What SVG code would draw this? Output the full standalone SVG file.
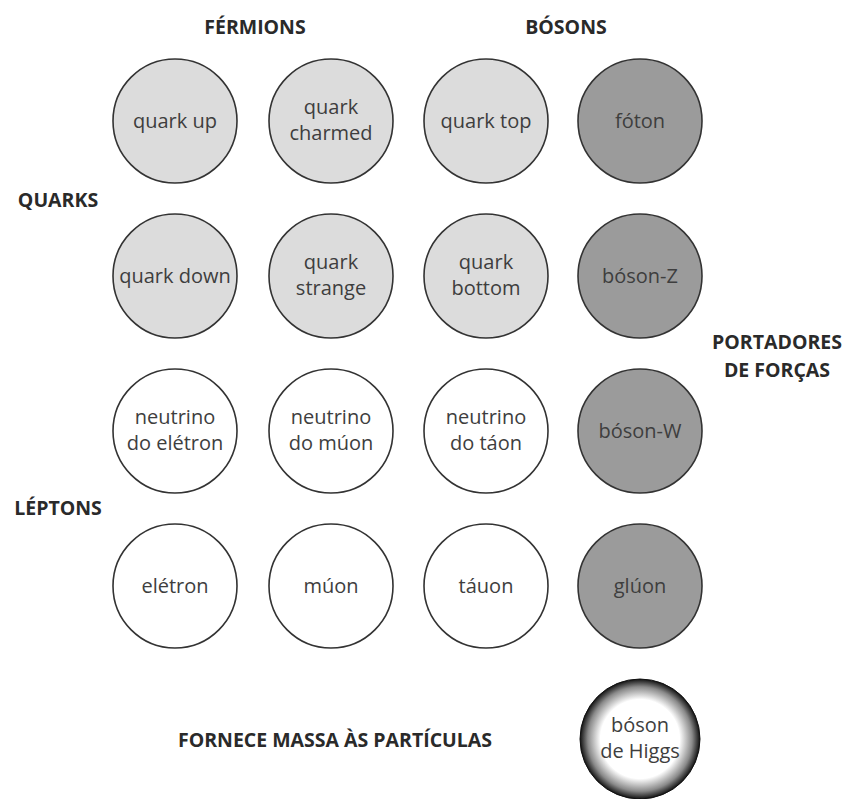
<svg xmlns="http://www.w3.org/2000/svg" width="847" height="799" viewBox="0 0 847 799">
<defs>
<radialGradient id="higgs" cx="50%" cy="50%" r="50%">
<stop offset="0" stop-color="#ffffff"/>
<stop offset="0.66" stop-color="#ffffff"/>
<stop offset="0.87" stop-color="#8a8a8a"/>
<stop offset="1" stop-color="#111111"/>
</radialGradient>
</defs>
<style>
.c{stroke:#333;stroke-width:1.6}
.q{fill:#dcdcdc}
.b{fill:#9b9b9b}
.l{fill:#ffffff}
.t{font-family:"Open Sans","Liberation Sans",sans-serif;font-size:20px;fill:#3e3e3e;text-anchor:middle}
.h{font-family:"Open Sans","Liberation Sans",sans-serif;font-size:19.5px;font-weight:bold;fill:#2a2a2a;text-anchor:middle}
</style>
<rect width="847" height="799" fill="#ffffff"/>
<g id="labels">
<text class="h" x="255" y="34">FÉRMIONS</text>
<text class="h" x="566" y="34">BÓSONS</text>
<text class="h" x="58" y="207">QUARKS</text>
<text class="h" x="58" y="515">LÉPTONS</text>
<text class="h" x="777" y="349">PORTADORES</text>
<text class="h" x="777" y="377">DE FORÇAS</text>
<text class="h" x="335" y="747">FORNECE MASSA ÀS PARTÍCULAS</text>
</g>
<g id="connectors"/>
<g id="quark-up"><circle class="c q" cx="175" cy="121" r="62"/><text class="t" x="175" y="128">quark up</text></g>
<g id="quark-charmed"><circle class="c q" cx="331" cy="121" r="62"/><text class="t" x="331" y="114">quark</text><text class="t" x="331" y="140">charmed</text></g>
<g id="quark-top"><circle class="c q" cx="486" cy="121" r="62"/><text class="t" x="486" y="128">quark top</text></g>
<g id="foton"><circle class="c b" cx="640" cy="121" r="62"/><text class="t" x="640" y="128">fóton</text></g>
<g id="quark-down"><circle class="c q" cx="175" cy="276" r="62"/><text class="t" x="175" y="283">quark down</text></g>
<g id="quark-strange"><circle class="c q" cx="331" cy="276" r="62"/><text class="t" x="331" y="269">quark</text><text class="t" x="331" y="295">strange</text></g>
<g id="quark-bottom"><circle class="c q" cx="486" cy="276" r="62"/><text class="t" x="486" y="269">quark</text><text class="t" x="486" y="295">bottom</text></g>
<g id="boson-z"><circle class="c b" cx="640" cy="276" r="62"/><text class="t" x="640" y="283">bóson-Z</text></g>
<g id="neutrino-eletron"><circle class="c l" cx="175" cy="431" r="62"/><text class="t" x="175" y="424">neutrino</text><text class="t" x="175" y="450">do elétron</text></g>
<g id="neutrino-muon"><circle class="c l" cx="331" cy="431" r="62"/><text class="t" x="331" y="424">neutrino</text><text class="t" x="331" y="450">do múon</text></g>
<g id="neutrino-tauon"><circle class="c l" cx="486" cy="431" r="62"/><text class="t" x="486" y="424">neutrino</text><text class="t" x="486" y="450">do táon</text></g>
<g id="boson-w"><circle class="c b" cx="640" cy="431" r="62"/><text class="t" x="640" y="438">bóson-W</text></g>
<g id="eletron"><circle class="c l" cx="175" cy="586" r="62"/><text class="t" x="175" y="593">elétron</text></g>
<g id="muon"><circle class="c l" cx="331" cy="586" r="62"/><text class="t" x="331" y="593">múon</text></g>
<g id="tauon"><circle class="c l" cx="486" cy="586" r="62"/><text class="t" x="486" y="593">táuon</text></g>
<g id="gluon"><circle class="c b" cx="640" cy="586" r="62"/><text class="t" x="640" y="593">glúon</text></g>
<g id="boson-higgs"><circle cx="640" cy="739" r="60" fill="url(#higgs)" stroke="#111" stroke-width="1"/><text class="t" x="640" y="732">bóson</text><text class="t" x="640" y="758">de Higgs</text></g>
</svg>
